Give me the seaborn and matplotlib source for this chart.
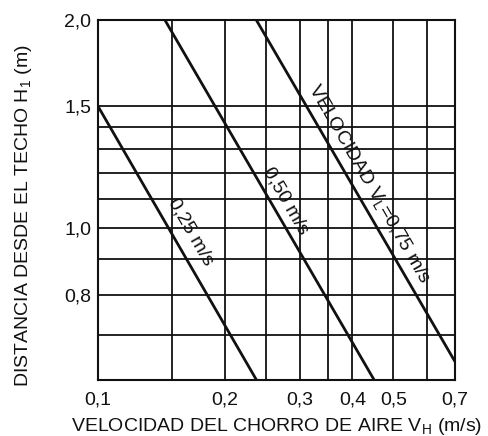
import matplotlib
matplotlib.use("Agg")
import matplotlib.pyplot as plt
import seaborn as sns
import pandas as pd
import numpy as np
from matplotlib.ticker import FixedLocator, FixedFormatter, NullFormatter

# ---- data ----
x_major = [0.1, 0.2, 0.3, 0.4, 0.5, 0.7]
x_major_labels = ["0,1", "0,2", "0,3", "0,4", "0,5", "0,7"]
x_minor = [0.15, 0.25, 0.35, 0.6]
y_major = [0.8, 1.0, 1.5, 2.0]
y_major_labels = ["0,8", "1,0", "1,5", "2,0"]
y_minor = [0.7, 0.9, 1.1, 1.2, 1.3, 1.4]

v_025 = [0.1, 0.238]
h_025 = [1.5, 0.6]
v_050 = [0.144, 0.452]
h_050 = [2.0, 0.6]
v_075 = [0.237, 0.7]
h_075 = [2.0, 0.64]

series_names = ["0,25 m/s", "0,50 m/s", "VELOCIDAD V$_\\mathregular{L}$=0,75 m/s"]

df = pd.concat([
    pd.DataFrame({"V": v_025, "H": h_025, "s": series_names[0]}),
    pd.DataFrame({"V": v_050, "H": h_050, "s": series_names[1]}),
    pd.DataFrame({"V": v_075, "H": h_075, "s": series_names[2]}),
], ignore_index=True)

sns.set_theme(style="white")
plt.rcParams["font.family"] = ["Liberation Sans", "DejaVu Sans"]
plt.rcParams["mathtext.fontset"] = "custom"
plt.rcParams["mathtext.rm"] = "Liberation Sans"

INK = "#111111"
fig = plt.figure(figsize=(4.88, 4.36), dpi=100)
ax = fig.add_axes([98/488, 1-380/436, (455-98)/488, (380-20)/436])

sns.lineplot(data=df, x="V", y="H", hue="s", units="s", estimator=None,
             palette=[INK]*3, linewidth=2.0, legend=False, ax=ax, sort=False)

ax.set_xscale("log")
ax.set_yscale("log")
ax.set_xlim(0.1, 0.7)
ax.set_ylim(0.602, 2.0)

ax.xaxis.set_major_locator(FixedLocator(x_major))
ax.xaxis.set_major_formatter(FixedFormatter(x_major_labels))
ax.xaxis.set_minor_locator(FixedLocator(x_minor))
ax.xaxis.set_minor_formatter(NullFormatter())
ax.yaxis.set_major_locator(FixedLocator(y_major))
ax.yaxis.set_major_formatter(FixedFormatter(y_major_labels))
ax.yaxis.set_minor_locator(FixedLocator(y_minor))
ax.yaxis.set_minor_formatter(NullFormatter())

ax.grid(True, which="both", color=INK, linewidth=1.3)
ax.tick_params(which="both", length=0, labelsize=14, colors=INK)
ax.tick_params(axis="x", pad=8)
ax.tick_params(axis="y", pad=5)
for sp in ax.spines.values():
    sp.set_color(INK)
    sp.set_linewidth(1.5)

ax.set_xlabel("VELOCIDAD DEL CHORRO DE AIRE V$_\\mathregular{H}$ (m/s)", fontsize=14,
              color=INK, labelpad=6)
ax.set_ylabel("DISTANCIA DESDE EL TECHO H$_\\mathregular{1}$ (m)", fontsize=14,
              color=INK)
ax.yaxis.set_label_coords(-0.179, 0.458)

label_pos = [(0.166, 0.986), (0.278, 1.095), (0.437, 1.157)]
for name, (xv, yv) in zip(series_names, label_pos):
    ax.text(xv, yv, name, rotation=-60, ha="center", va="center",
            fontsize=14, color=INK, rotation_mode="anchor")

fig.savefig("out.png", dpi=100)
